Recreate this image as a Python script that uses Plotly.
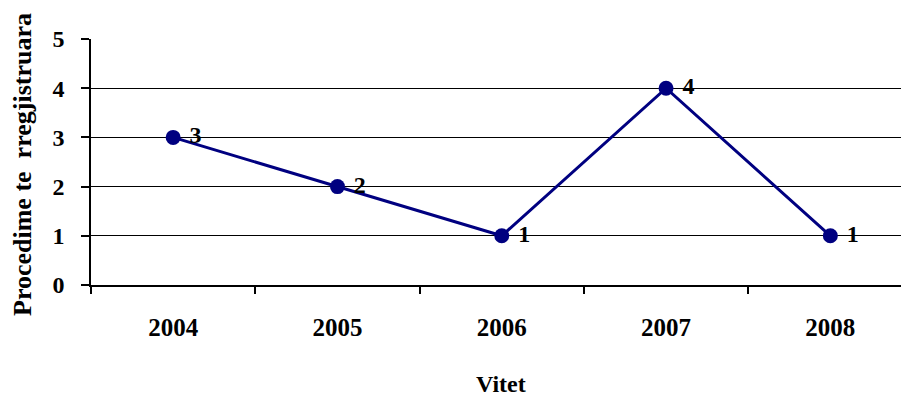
import plotly.graph_objects as go

years = ["2004", "2005", "2006", "2007", "2008"]
values = [3, 2, 1, 4, 1]
y_ticks = [0, 1, 2, 3, 4, 5]

FONT = "Liberation Serif"
W, H = 901, 397
ML, MR, MT, MB = 91, 0, 39, 112

fig = go.Figure()
fig.add_trace(go.Scatter(
    x=years, y=values, mode="lines+markers+text",
    line=dict(color="#000080", width=3),
    marker=dict(color="#000080", size=15),
    text=["\u00a0" + str(v) for v in values], textposition="middle right",
    textfont=dict(family=FONT, size=24, color="black", weight="bold"),
    cliponaxis=False, showlegend=False,
))

fig.update_layout(
    width=W, height=H,
    margin=dict(l=ML, r=MR, t=MT, b=MB),
    plot_bgcolor="white", paper_bgcolor="white",
    xaxis=dict(
        type="category", range=[-0.5, 4.43],
        showline=True, linecolor="black", linewidth=1.5,
        showgrid=False, zeroline=False,
        ticks="outside", tickson="boundaries", ticklen=7, tickcolor="black", tickwidth=1.5,
        tickfont=dict(family=FONT, size=25, color="black", weight="bold"),
        ticklabelstandoff=19,
    ),
    yaxis=dict(
        range=[0, 5], tickvals=y_ticks,
        showline=True, linecolor="black", linewidth=1.5,
        showgrid=True, gridcolor="black", gridwidth=1.4,
        zeroline=False,
        ticks="outside", ticklen=8, tickcolor="black", tickwidth=1.5,
        tickfont=dict(family=FONT, size=24, color="black", weight="bold"),
        ticklabelstandoff=12,
    ),
    annotations=[
        dict(text="Vitet", xref="paper", yref="paper",
             x=(501 - ML) / (W - ML - MR), y=-(369 - (H - MB)) / (H - MT - MB),
             xanchor="center", yanchor="top", showarrow=False,
             font=dict(family=FONT, size=24, color="black", weight="bold")),
        dict(text="Procedime te  rregjistruara", xref="paper", yref="paper",
             x=-(ML - 22) / (W - ML - MR), y=(H - MB - 165) / (H - MT - MB),
             xanchor="center", yanchor="middle", textangle=-90, showarrow=False,
             font=dict(family=FONT, size=26, color="black", weight="bold")),
    ],
)

fig.write_html("out.html", config={"displayModeBar": False},
               post_script="document.body.style.margin='0';document.body.style.padding='0';")
